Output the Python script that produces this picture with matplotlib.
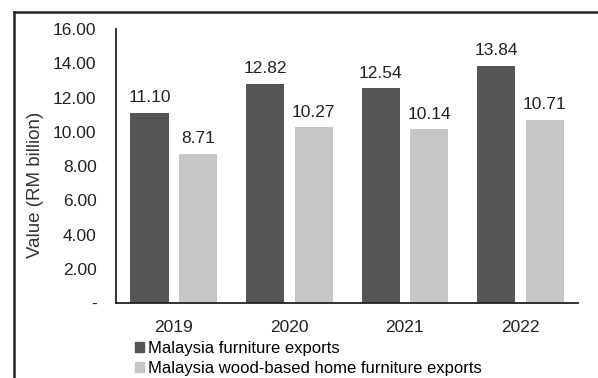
import matplotlib.pyplot as plt
import numpy as np
from matplotlib.lines import Line2D
from matplotlib.patches import Patch

plt.rcParams['font.family'] = ['Liberation Sans', 'DejaVu Sans']

years = ['2019', '2020', '2021', '2022']
furniture = [11.10, 12.82, 12.54, 13.84]
wood_based = [8.71, 10.27, 10.14, 10.71]
series_names = ['Malaysia furniture exports', 'Malaysia wood-based home furniture exports']
yticks = [0, 2, 4, 6, 8, 10, 12, 14, 16]
ytick_labels = ['-', '2.00', '4.00', '6.00', '8.00', '10.00', '12.00', '14.00', '16.00']

dark = '#555555'
light = '#c6c6c6'

fig = plt.figure(figsize=(5.98, 3.78), dpi=100)
ax = fig.add_axes([0.194, 0.198, 0.773, 0.725])

x = np.arange(len(years))
w = 0.33
off = 0.21
b1 = ax.bar(x - off, furniture, w, color=dark)
b2 = ax.bar(x + off, wood_based, w, color=light)

for bars, vals in [(b1, furniture), (b2, wood_based)]:
    for b, v in zip(bars, vals):
        ax.text(b.get_x() + b.get_width() / 2, v + 0.45, '%.2f' % v,
                ha='center', va='bottom', fontsize=12.5, color='#222222')

ax.set_xlim(-0.5, 3.5)
ax.set_ylim(0, 16)
ax.set_xticks(x)
ax.set_xticklabels(years, fontsize=12.5)
ax.set_yticks(yticks)
ax.set_yticklabels(ytick_labels, fontsize=12.5)
ax.tick_params(length=0, colors='#222222')
ax.tick_params(axis='y', pad=14)
ax.tick_params(axis='x', pad=12)
for s in ['top', 'right']:
    ax.spines[s].set_visible(False)
ax.spines['left'].set_color('#222222')
ax.spines['bottom'].set_color('#222222')
ax.spines['left'].set_linewidth(1.3)
ax.spines['bottom'].set_linewidth(1.3)
ax.set_ylabel('Value (RM billion)', fontsize=13.5, color='#333333')
ax.yaxis.set_label_coords(-0.155, 0.43)

# outer frame
fig.add_artist(Line2D([14/598, 14/598], [0, 0.968], color='#222222', lw=1.8))
fig.add_artist(Line2D([14/598, 1], [0.968, 0.968], color='#222222', lw=1.8))

handles = [Patch(color=dark), Patch(color=light)]
fig.legend(handles, series_names, loc='upper left', bbox_to_anchor=(0.226, 0.097),
           frameon=False, fontsize=12, handlelength=0.55, handleheight=0.55,
           handletextpad=0.2, labelspacing=0.3, borderaxespad=0, borderpad=0)

fig.savefig('out.png', dpi=100)
